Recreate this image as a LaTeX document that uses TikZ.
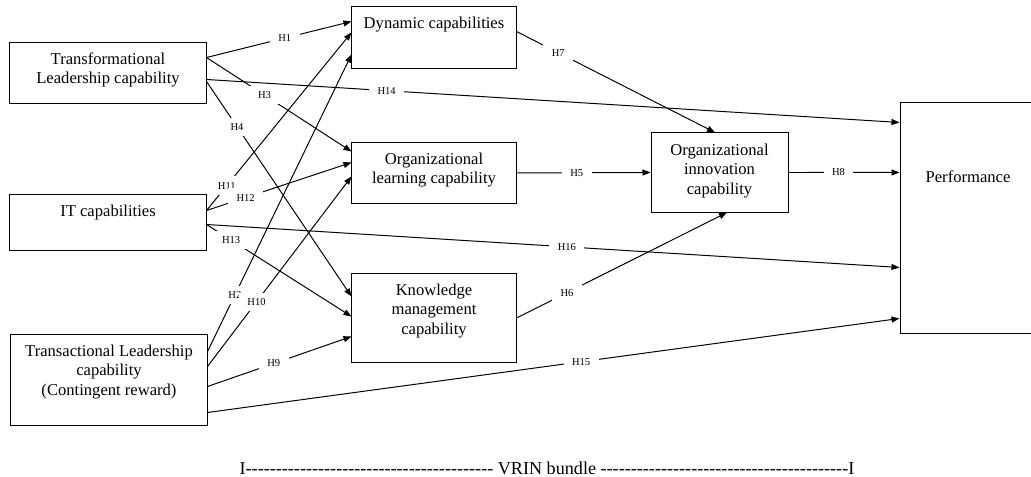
\documentclass[tikz,border=0pt]{standalone}
\usepackage{fontspec}
\setmainfont{Liberation Serif}
\newfontfamily\plainserif{Liberation Serif}
\usetikzlibrary{arrows.meta,calc}

\newcommand\dashrun[1]{\foreach\k in {1,...,#1}{-}}

\begin{document}
\begin{tikzpicture}[
    x=0.025cm, y=-0.025cm,
    box/.style={draw, line width=0.7pt, inner sep=0pt},
    boxtext/.style={anchor=north, align=center, inner sep=0pt, yshift=-0.25cm, font=\fontsize{11.8}{13.8}\selectfont},
    hyp/.style={fill=white, inner xsep=6pt, inner ysep=4pt, font=\fontsize{7.5}{9}\selectfont},
    link/.style={-{Triangle[length=2mm, width=1.5mm]}, line width=0.7pt}
]
\useasboundingbox (0,0) rectangle (1031,477);

% left column
\node[box, minimum width=4.9cm, minimum height=1.5cm,
      label={[boxtext]north:Transformational\\Leadership capability}] (tl) at (108,73) {};
\node[box, minimum width=4.9cm, minimum height=1.375cm,
      label={[boxtext]north:IT capabilities}] (it) at (108,222.5) {};
\node[box, minimum width=4.9cm, minimum height=2.25cm,
      label={[boxtext]north:Transactional Leadership\\capability\\(Contingent reward)}] (tr) at (109,380) {};

% middle column
\node[box, minimum width=4.1cm, minimum height=1.525cm,
      label={[boxtext]north:Dynamic capabilities}] (dyn) at (434,37.5) {};
\node[box, minimum width=4.1cm, minimum height=1.5cm,
      label={[boxtext]north:Organizational\\learning capability}] (ol) at (434,173) {};
\node[box, minimum width=4.1cm, minimum height=2.2cm,
      label={[boxtext]north:Knowledge\\management\\capability}] (km) at (434,318) {};

% right side
\node[box, minimum width=3.425cm, minimum height=1.975cm,
      label={[boxtext, yshift=-0.03cm]north:Organizational\\innovation\\capability}] (oi) at (719.5,172.5) {};
\node[box, minimum width=3.4cm, minimum height=5.75cm,
      label={[boxtext, yshift=-1.45cm]north:Performance}] (perf) at (968,218) {};

% hypotheses
\draw[link] ($(tl.north east)+(0,15)$) -- node[hyp, pos=0.54] (h1) {H1} ($(dyn.north west)+(0,15)$);
\draw[link] ($(tl.north east)+(0,15)$) -- node[hyp, pos=0.40] (h3) {H3} ($(ol.north west)+(0,9)$);
\draw[link] ($(tl.north east)+(0,37)$) -- node[hyp, pos=0.26] (h14) {H14} ($(perf.north west)+(0,20)$);
\draw[link] ($(tl.north east)+(0,39)$) -- node[hyp, pos=0.21] (h4) {H4} ($(km.north west)+(0,23)$);

\draw[link] ($(it.north east)+(0,16)$) -- node[hyp, pos=0.14] (h11) {H11} ($(dyn.north west)+(0,26)$);
\draw[link] ($(it.north east)+(0,16)$) -- node[hyp, pos=0.27] (h12) {H12} ($(ol.north west)+(0,20)$);
\draw[link] ($(it.north east)+(0,30)$) -- node[hyp, pos=0.17] (h13) {H13} ($(km.north west)+(0,43)$);
\draw[link] ($(it.north east)+(0,30)$) -- node[hyp, pos=0.52] (h16) {H16} ($(perf.north west)+(0,165)$);

\draw[link] ($(tr.north east)+(0,17)$) -- node[hyp, pos=0.19] (h2) {H2} ($(dyn.north west)+(0,48)$);
\draw[link] ($(tr.north east)+(0,32)$) -- node[hyp, pos=0.34] (h10) {H10} ($(ol.north west)+(0,34)$);
\draw[link] ($(tr.north east)+(0,52)$) -- node[hyp, pos=0.46] (h9) {H9} ($(km.north west)+(0,63)$);
\draw[link] ($(tr.north east)+(0,78)$) -- node[hyp, pos=0.54] (h15) {H15} ($(perf.north west)+(0,216)$);

\draw[link] ($(dyn.north east)+(0,25)$) -- node[hyp, pos=0.21] (h7) {H7} ($(oi.north)+(-4.5,0)$);
\draw[link] (ol.east) -- node[hyp, pos=0.45] (h5) {H5} (oi.west);
\draw[link] (km.east) -- node[hyp, pos=0.24] (h6) {H6} ($(oi.south)+(7.5,0)$);
\draw[link] (oi.east) -- node[hyp, pos=0.45] (h8) {H8} ($(perf.north west)+(0,70)$);

% bundle line
\node[inner sep=0pt, font=\plainserif\fontsize{12.9}{15}\selectfont] (vrin) at (547,468)
    {I\dashrun{41} VRIN bundle \dashrun{41}I};
\end{tikzpicture}
\end{document}
